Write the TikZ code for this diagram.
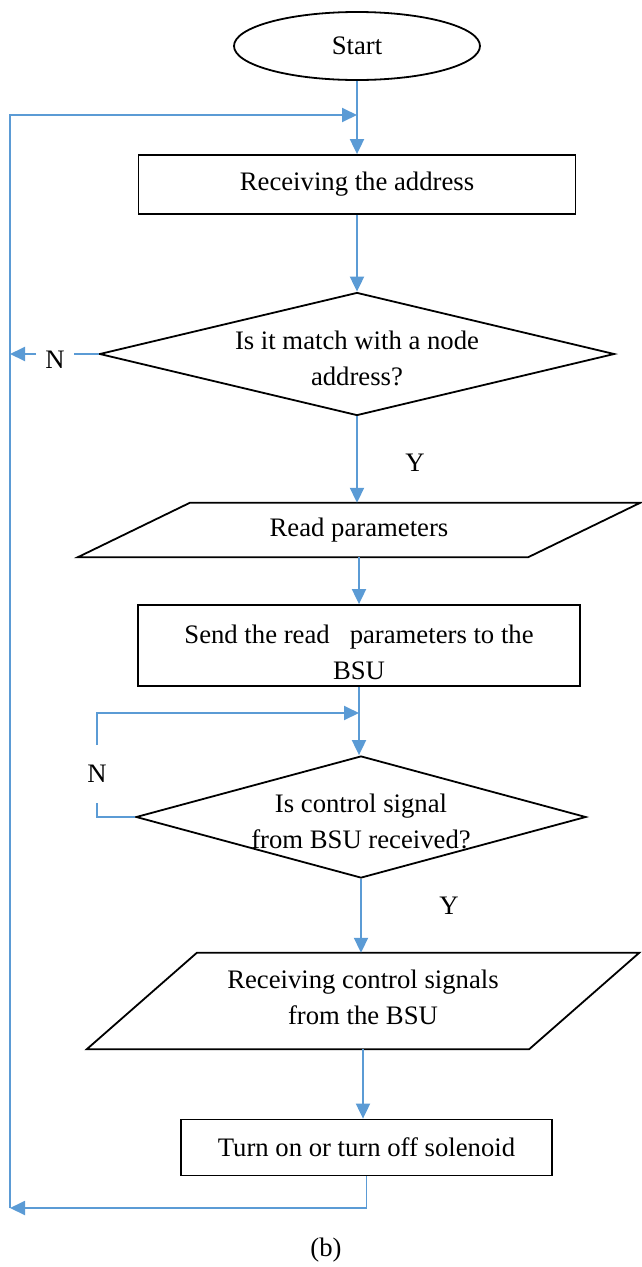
\documentclass[tikz,border=0pt]{standalone}
\usepackage{fontspec}
\setmainfont{Liberation Serif}
\usetikzlibrary{shapes.geometric,arrows.meta}
\definecolor{flowblue}{HTML}{5B9BD5}

\begin{document}
\begin{tikzpicture}[x=1pt,y=-1pt,
    font=\fontsize{26.7}{36}\selectfont,
    box/.style={draw,line width=1.8pt,inner sep=0pt},
    process/.style={box,rectangle},
    decision/.style={box,diamond},
    io/.style={rectangle,inner sep=0pt},
    txt/.style={align=center},
    wire/.style={draw=flowblue,line width=1.9pt},
    flow/.style={wire,-{Triangle[length=15pt,width=14pt]}}]
    \useasboundingbox (0,0) rectangle (641,1267);

    \node[box,ellipse,minimum width=246pt,minimum height=68pt] (start) at (357,46) {Start};
    \node[process,minimum width=437pt,minimum height=59pt] (recv) at (357,184.5) {Receiving the address};
    \node[decision,minimum width=515pt,minimum height=123pt,
          label={[txt,yshift=-4pt]center:Is it match with a node\\address?}] (q1) at (357,354) {};

    \node[io,minimum width=450pt,minimum height=54pt] (rp) at (359,530) {Read parameters};
    \draw[box] ([xshift=56pt]rp.north west) -- ([xshift=56pt]rp.north east)
        -- ([xshift=-56pt]rp.south east) -- ([xshift=-56pt]rp.south west) -- cycle;

    \node[process,minimum width=442pt,minimum height=81pt,
          label={[txt,yshift=-6.5pt]center:Send the read \ \ parameters to the\\BSU}] (send) at (359,645.5) {};
    \node[decision,minimum width=450pt,minimum height=122pt,
          label={[txt,yshift=-4.5pt]center:Is control signal\\from BSU received?}] (q2) at (361,817) {};

    \node[io,minimum width=442pt,minimum height=96pt,
          label={[txt,yshift=3.4pt]center:Receiving control signals\\from the BSU}] (rc) at (363,1001) {};
    \draw[box] ([xshift=55pt]rc.north west) -- ([xshift=55pt]rc.north east)
        -- ([xshift=-55pt]rc.south east) -- ([xshift=-55pt]rc.south west) -- cycle;

    \node[process,minimum width=371pt,minimum height=56pt] (sol) at (366.5,1147.5) {Turn on or turn off solenoid};

    % branch labels
    \node[inner xsep=9pt] (n1) at (55,360) {N};
    \node[inner ysep=20pt] (n2) at (97,774) {N};
    \node (y1) at (415,463) {Y};
    \node (y2) at (449,906) {Y};
    \node (cap) at (326,1250) {(b)};

    \coordinate (lt) at (10,115);
    \coordinate (lb) at (10,1208);
    \coordinate (j2) at (359,713);

    % main flow
    \draw[flow] (start.south) -- (recv.north);
    \draw[flow] (recv.south) -- (q1.north);
    \draw[flow] (q1.south) -- (q1.south |- rp.north);
    \draw[flow] (rp.south) -- (send.north);
    \draw[flow] (send.south) -- (send.south |- q2.north);
    \draw[flow] (q2.south) -- (q2.south |- rc.north);
    \draw[flow] (rc.south) -- (rc.south |- sol.north);

    % loops back
    \draw[wire] (q1.west) -- (q1.west -| n1.east);
    \draw[flow] (q1.west -| n1.west) -- (q1.west -| lt);
    \draw[wire] (q2.west) -- (q2.west -| n2) -- (n2.south);
    \draw[flow] (n2.north) -- (n2.north |- j2) -- (j2);
    \draw[flow] (sol.south) -- (sol.south |- lb) -- (lb);
    \draw[flow] (lb) -- (lt) -- (lt -| start.south);
\end{tikzpicture}
\end{document}
